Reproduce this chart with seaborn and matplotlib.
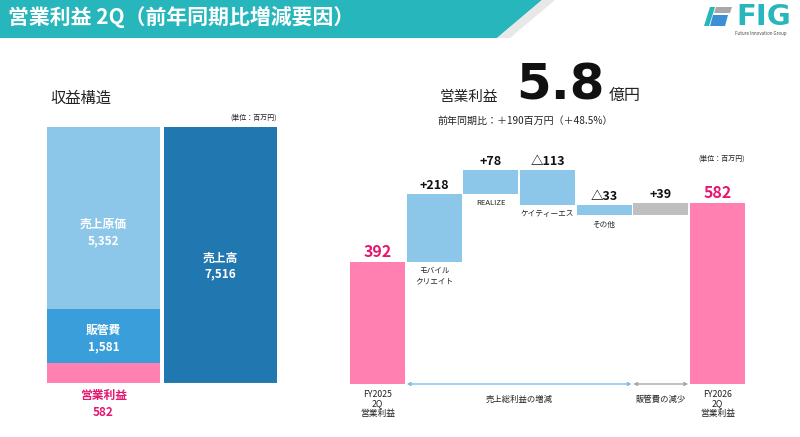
import matplotlib
matplotlib.use("Agg")
import numpy as np
import seaborn as sns
from matplotlib import pyplot as plt
from matplotlib.patches import Polygon

# left chart: revenue structure (百万円), stacked from bottom
stack_names = ["営業利益", "販管費", "売上原価"]
stack_values = [582, 1581, 5352]
sales_name = "売上高"
sales_value = 7516

# right chart: operating profit bridge (百万円)
start_label = "FY2025\n2Q\n営業利益"
end_label = "FY2026\n2Q\n営業利益"
start_value = 392
end_value = 582
step_names = ["モバイル\nクリエイト", "REALIZE", "ケイティーエス", "その他", ""]
step_deltas = [218, 78, -113, -33, 39]
step_groups = ["gross", "gross", "gross", "gross", "sga"]
group_names = {"gross": "売上総利益の増減", "sga": "販管費の減少"}

sns.set_theme(style="white")
plt.rcParams["font.family"] = ["Noto Sans CJK JP", "DejaVu Sans"]

LIGHT = "#8CC7EA"
MID = "#3A9EDB"
DARK = "#2178B0"
PINK = "#FF80B1"
PINK_TXT = "#E5176F"
GRAY = "#BFBFBF"
TEAL = "#27B6BC"
TXT = "#222222"

fig = plt.figure(figsize=(8, 4.37), dpi=100)
fig.patch.set_facecolor("white")

# background axes in pixel coordinates for header / titles
bg = fig.add_axes([0, 0, 1, 1])
bg.set_xlim(0, 800)
bg.set_ylim(437, 0)
bg.axis("off")

bg.add_patch(Polygon([(0, 0), (542, 0), (497, 38), (0, 38)], color=TEAL, lw=0))
bg.add_patch(Polygon([(542, 0), (555, 0), (510, 38), (497, 38)], color="#E8E8E8", lw=0))
bg.text(8, 17, "営業利益 2Q（前年同期比増減要因）", color="white", fontsize=15,
        fontweight="bold", va="center", ha="left")

# logo
bg.add_patch(Polygon([(704, 26), (709, 26), (715, 7), (710, 7)], color=TEAL, lw=0))
bg.add_patch(Polygon([(716, 7), (732, 7), (730, 13), (714, 13)], color="#A9A9A9", lw=0))
bg.add_patch(Polygon([(713, 15), (728, 15), (725, 26), (710, 26)], color="#3A8FD6", lw=0))
bg.text(736, 17, "FIG", color=TEAL, fontsize=21, fontweight="bold", va="center",
        ha="left", family="DejaVu Sans")
bg.text(761, 33, "Future Innovation Group", color="#444444", fontsize=3.2,
        va="center", ha="center")

# titles
bg.text(50, 98, "収益構造", fontsize=11, color=TXT, va="center", ha="left")
bg.text(277, 118, "(単位：百万円)", fontsize=5, color=TXT, va="center", ha="right")
bg.text(440, 97, "営業利益", fontsize=10.5, color=TXT, va="center", ha="left")
bg.text(516, 100, "5.8", fontsize=36, fontweight="bold", color="#111111",
        va="baseline", ha="left", family="DejaVu Sans")
bg.text(609, 95, "億円", fontsize=11.5, color=TXT, va="center", ha="left")
bg.text(438, 121, "前年同期比：＋190百万円（＋48.5%）", fontsize=7.2, color=TXT,
        va="center", ha="left")
bg.text(745, 159, "(単位：百万円)", fontsize=5, color=TXT, va="center", ha="right")

# ---- left: stacked structure ----
axl = fig.add_axes([47 / 800, (437 - 383) / 437, 230 / 800, 256 / 437])
axl.set_xlim(-0.48, 1.48)
axl.set_ylim(0, sales_value)
axl.axis("off")

bottoms = np.concatenate([[0], np.cumsum(stack_values)[:-1]])
stack_colors = [PINK, MID, LIGHT]
axl.bar(0, stack_values, bottom=bottoms, width=0.96, color=stack_colors, lw=0)
axl.bar(1, sales_value, width=0.96, color=DARK, lw=0)
axl.axhline(0, color="#E0E0E0", lw=0.8)

# labels inside the segments (not the thin profit segment)
for name, val, b in zip(stack_names[1:], stack_values[1:], bottoms[1:]):
    mid = b + val / 2
    shift = -12 if val > 3000 else 0
    axl.annotate(name, (0, mid), xytext=(0, 6 + shift), textcoords="offset pixels",
                 ha="center", va="center", color="white", fontsize=8.5, fontweight="bold")
    axl.annotate(f"{val:,}", (0, mid), xytext=(0, -11 + shift), textcoords="offset pixels",
                 ha="center", va="center", color="white", fontsize=8.5, fontweight="bold")
axl.annotate(sales_name, (1, sales_value / 2), xytext=(0, -3), textcoords="offset pixels",
             ha="center", va="center", color="white", fontsize=8.5, fontweight="bold")
axl.annotate(f"{sales_value:,}", (1, sales_value / 2), xytext=(0, -19), textcoords="offset pixels",
             ha="center", va="center", color="white", fontsize=8.5, fontweight="bold")
axl.annotate(stack_names[0], (0, 0), xytext=(0, -12), textcoords="offset pixels",
             ha="center", va="center", color=PINK_TXT, fontsize=8.5, fontweight="bold")
axl.annotate(f"{stack_values[0]:,}", (0, 0), xytext=(0, -30), textcoords="offset pixels",
             ha="center", va="center", color=PINK_TXT, fontsize=8.5, fontweight="bold")

# ---- right: waterfall ----
axr = fig.add_axes([349.2 / 800, (437 - 384) / 437, 396.6 / 800, 244 / 437])
axr.set_xlim(-0.5, 6.5)
axr.set_ylim(0, 784.6)
axr.axis("off")
W = 0.97

axr.bar(0, start_value, width=W, color=PINK, lw=0)
axr.annotate(f"{start_value}", (0, start_value), xytext=(0, 2), textcoords="offset pixels",
             ha="center", va="bottom", color=PINK_TXT, fontsize=11.5, fontweight="bold")
axr.annotate(start_label, (0, 0), xytext=(0, -6), textcoords="offset pixels",
             ha="center", va="top", color=TXT, fontsize=6.3, linespacing=1.05)

cum = start_value
for i, (name, d, g) in enumerate(zip(step_names, step_deltas, step_groups), start=1):
    lo, hi = min(cum, cum + d), max(cum, cum + d)
    axr.bar(i, hi - lo, bottom=lo, width=W, color=GRAY if g == "sga" else LIGHT, lw=0)
    lab = f"+{d}" if d > 0 else f"△{-d}"
    axr.annotate(lab, (i, hi), xytext=(0, 2), textcoords="offset pixels",
                 ha="center", va="bottom", color="#111111", fontsize=9, fontweight="bold")
    if name:
        axr.annotate(name, (i, lo), xytext=(0, -5), textcoords="offset pixels",
                     ha="center", va="top", color=TXT, fontsize=5.5, linespacing=1.45)
    cum += d

n_end = len(step_deltas) + 1
axr.bar(n_end, end_value, width=W, color=PINK, lw=0)
axr.annotate(f"{end_value}", (n_end, end_value), xytext=(0, 2), textcoords="offset pixels",
             ha="center", va="bottom", color=PINK_TXT, fontsize=11.5, fontweight="bold")
axr.annotate(end_label, (n_end, 0), xytext=(0, -6), textcoords="offset pixels",
             ha="center", va="top", color=TXT, fontsize=6.3, linespacing=1.05)

# bracket arrows along the baseline per group
for g, col in [("gross", "#7EC0E6"), ("sga", "#A8A8A8")]:
    idx = [i for i, gg in enumerate(step_groups, start=1) if gg == g]
    x0, x1 = min(idx) - W / 2, max(idx) + W / 2
    axr.annotate("", xy=(x1, 0), xytext=(x0, 0),
                 arrowprops=dict(arrowstyle="<|-|>", color=col, lw=1,
                                 shrinkA=0, shrinkB=0, mutation_scale=5),
                 annotation_clip=False)
    axr.annotate(group_names[g], ((x0 + x1) / 2, 0), xytext=(0, -15), textcoords="offset pixels",
                 ha="center", va="center", color=TXT, fontsize=6)

fig.savefig("out.png", dpi=100)
